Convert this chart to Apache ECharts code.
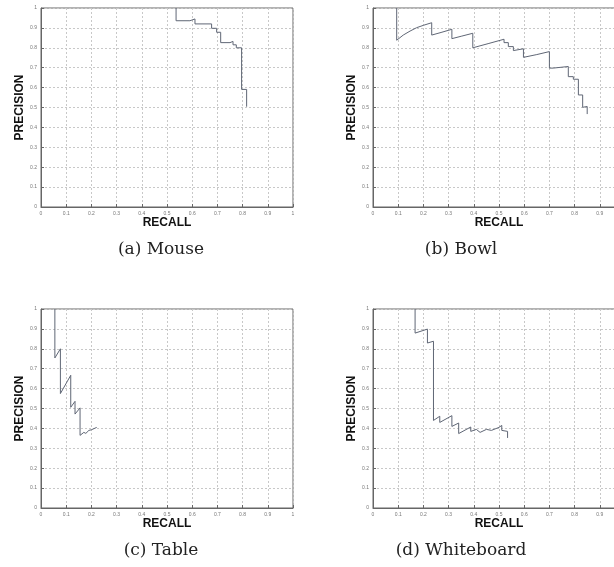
<!DOCTYPE html>
<html>
<head>
<meta charset="utf-8">
<script src="https://cdn.jsdelivr.net/npm/echarts@6/dist/echarts.min.js"></script>
<style>
  html, body { margin: 0; padding: 0; background: #fff; }
  #chart { width: 614px; height: 567px; }
</style>
</head>
<body>
<div id="chart"></div>
<script>
// tick values shared by both axes of every panel
const ticks = [0, 0.1, 0.2, 0.3, 0.4, 0.5, 0.6, 0.7, 0.8, 0.9, 1]

// (a) Mouse
const mouseRecall = [0.536, 0.536, 0.591, 0.591, 0.611, 0.611, 0.677, 0.677, 0.697, 0.697, 0.713, 0.713, 0.75, 0.75, 0.762, 0.762, 0.775, 0.775, 0.796, 0.796, 0.816, 0.816]
const mousePrecision = [1.0, 0.936, 0.936, 0.945, 0.945, 0.92, 0.92, 0.898, 0.898, 0.878, 0.878, 0.826, 0.826, 0.832, 0.832, 0.815, 0.815, 0.80, 0.80, 0.591, 0.591, 0.504]

// (b) Bowl
const bowlRecall = [0.094, 0.094, 0.12, 0.147, 0.173, 0.2, 0.233, 0.233, 0.27, 0.313, 0.313, 0.35, 0.396, 0.396, 0.46, 0.52, 0.52, 0.537, 0.537, 0.557, 0.557, 0.597, 0.597, 0.65, 0.70, 0.70, 0.715, 0.715, 0.775, 0.775, 0.795, 0.795, 0.815, 0.815, 0.832, 0.832, 0.85, 0.85]
const bowlPrecision = [1.0, 0.838, 0.864, 0.884, 0.901, 0.913, 0.926, 0.864, 0.877, 0.893, 0.846, 0.858, 0.873, 0.80, 0.822, 0.843, 0.826, 0.826, 0.806, 0.806, 0.786, 0.795, 0.752, 0.766, 0.781, 0.698, 0.698, 0.689, 0.706, 0.655, 0.655, 0.642, 0.642, 0.563, 0.563, 0.501, 0.505, 0.467]

// (c) Table
const tableRecall = [0.055, 0.055, 0.077, 0.077, 0.118, 0.118, 0.135, 0.135, 0.155, 0.155, 0.17, 0.178, 0.19, 0.2, 0.221]
const tablePrecision = [1.0, 0.754, 0.80, 0.575, 0.667, 0.506, 0.536, 0.472, 0.503, 0.365, 0.38, 0.375, 0.39, 0.393, 0.405]

// (d) Whiteboard
const boardRecall = [0.167, 0.167, 0.216, 0.216, 0.24, 0.24, 0.265, 0.265, 0.313, 0.313, 0.34, 0.34, 0.388, 0.388, 0.41, 0.425, 0.45, 0.47, 0.5, 0.511, 0.511, 0.534, 0.534]
const boardPrecision = [1.0, 0.879, 0.899, 0.829, 0.838, 0.44, 0.461, 0.43, 0.464, 0.41, 0.427, 0.374, 0.407, 0.385, 0.395, 0.38, 0.395, 0.39, 0.405, 0.415, 0.39, 0.385, 0.352]

const captions = ['(a) Mouse', '(b) Bowl', '(c) Table', '(d) Whiteboard']

const panels = [
    { x: mouseRecall, y: mousePrecision, left: 41, top: 8 },
    { x: bowlRecall, y: bowlPrecision, left: 373, top: 8 },
    { x: tableRecall, y: tablePrecision, left: 41, top: 309 },
    { x: boardRecall, y: boardPrecision, left: 373, top: 309 }
]
const W = 252, H = 199

const chart = echarts.init(document.getElementById('chart'))

const axisCommon = {
    type: 'value',
    min: 0,
    max: 1,
    interval: 0.1,
    nameLocation: 'middle',
    nameTextStyle: { fontFamily: 'Liberation Sans', fontWeight: 'bold', fontSize: 12, color: '#111' },
    axisLine: { show: true, lineStyle: { color: '#666', width: 1 } },
    axisTick: { show: true, inside: true, length: 3, lineStyle: { color: '#666' } },
    axisLabel: { fontSize: 5, color: '#777', margin: 4, fontFamily: 'Liberation Sans', showMinLabel: true, showMaxLabel: true },
    splitLine: { show: true, lineStyle: { color: '#c8c8c8', type: [2, 2], width: 1 } }
}

const option = {
    animation: false,
    // right-hand panels run past the page edge, as in the scanned figure
    grid: panels.map(p => ({
        left: p.left, top: p.top, width: W, height: H,
        outerBoundsMode: 'none', containLabel: false,
        show: true, borderColor: '#666', borderWidth: 1, backgroundColor: '#fff'
    })),
    xAxis: panels.map((p, i) => ({
        ...axisCommon, gridIndex: i, name: 'RECALL', nameGap: 10
    })),
    yAxis: panels.map((p, i) => ({
        ...axisCommon, gridIndex: i, name: 'PRECISION', nameGap: 14
    })),
    series: panels.map((p, i) => ({
        type: 'line',
        xAxisIndex: i,
        yAxisIndex: i,
        data: p.x.map((v, k) => [v, p.y[k]]),
        showSymbol: false,
        lineStyle: { color: '#5f6675', width: 1 },
        clip: true
    })),
    graphic: captions.map((t, i) => ({
        type: 'text',
        x: panels[i].left + (i % 2 ? 88 : 120),
        y: panels[i].top + 242,
        style: { text: t, font: '17px "DejaVu Serif"', fill: '#222', textAlign: 'center', textVerticalAlign: 'middle' }
    }))
}

chart.setOption(option)
</script>
</body>
</html>
